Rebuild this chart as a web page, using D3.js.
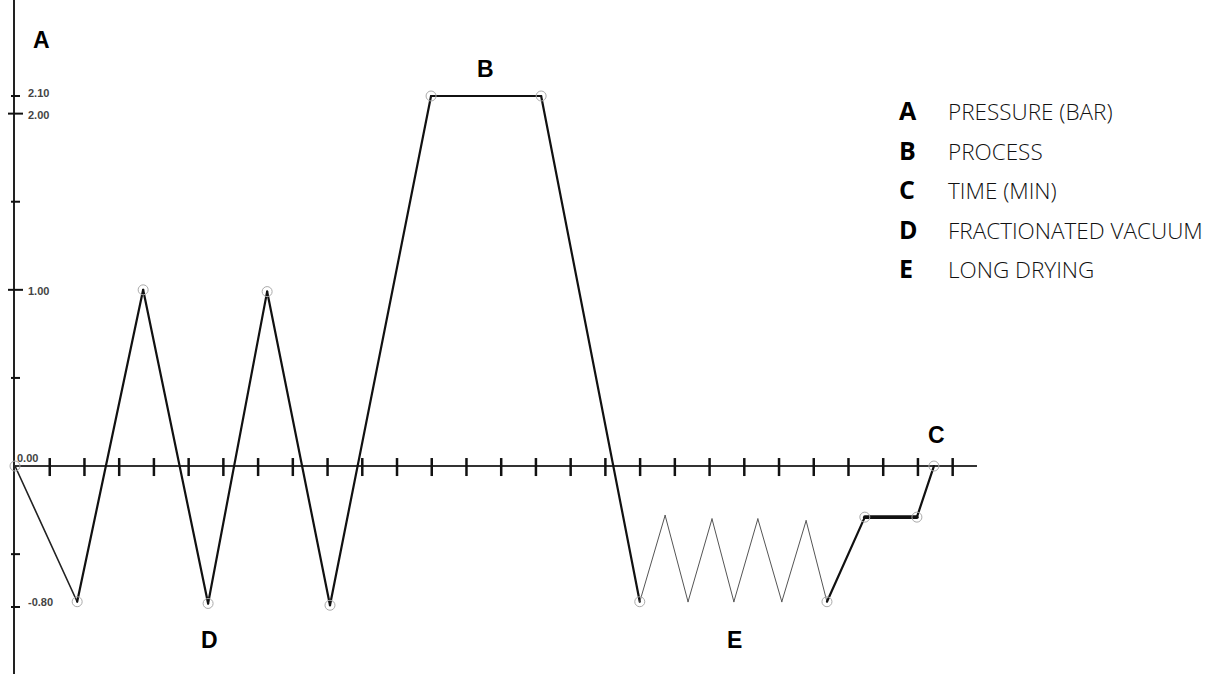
<!DOCTYPE html>
<html>
<head>
<meta charset="utf-8">
<script src="https://cdn.jsdelivr.net/npm/d3@7"></script>
<style>
  body { margin: 0; background: #fff; }
  svg { display: block; }
</style>
</head>
<body>
<svg id="chart"></svg>
<script>
// pressure profile, time in minutes, pressure in bar
let times = [0, 1.79, 3.69, 5.56, 7.26, 9.07, 11.98, 15.15, 17.99, 18.72, 19.38, 20.07, 20.70, 21.39, 22.08, 22.78, 23.38, 24.47, 25.97, 26.46]
let pressures = [0, -0.77, 1.00, -0.78, 0.99, -0.79, 2.10, 2.10, -0.77, -0.28, -0.77, -0.30, -0.77, -0.30, -0.77, -0.31, -0.77, -0.29, -0.29, 0]
// which points get a marker circle
let markers = [0, 1, 2, 3, 4, 5, 6, 7, 8, 16, 17, 18, 19]
// segment style: 'thin' = the vacuum pulses, 'bold' = hold
let segStyle = ['mid', 'std', 'std', 'std', 'std', 'std', 'std', 'std', 'thin', 'thin', 'thin', 'thin', 'thin', 'thin', 'thin', 'thin', 'std', 'bold', 'std']

let yTicks = [2.10, 2.00, 1.50, 1.00, 0.50, -0.50, -0.80]
let yMajor = [2.00, 1.00]
let yLabels = [2.10, 2.00, 1.00, -0.80]
let xTicks = d3.range(1, 28)

let legendKeys = ['A', 'B', 'C', 'D', 'E']
let legendTexts = ['PRESSURE (BAR)', 'PROCESS', 'TIME (MIN)', 'FRACTIONATED VACUUM', 'LONG DRYING']

let width = 1225
let height = 674

let svg = d3.select('#chart')
  .attr('width', width)
  .attr('height', height)

let x = d3.scaleLinear().domain([0, 28]).range([15, 987.4])
let y = d3.scaleLinear().domain([-0.8, 2.1]).range([607, 96])

let points = times.map((t, i) => ({ t: t, p: pressures[i] }))

// axes
svg.append('line')
  .attr('x1', x(0) - 1).attr('x2', x(0) - 1)
  .attr('y1', 0).attr('y2', height)
  .attr('stroke', '#222').attr('stroke-width', 2)

svg.append('line')
  .attr('x1', x(0) - 1).attr('x2', x(27.7))
  .attr('y1', y(0)).attr('y2', y(0))
  .attr('stroke', '#333').attr('stroke-width', 2)

svg.selectAll('.xtick')
  .data(xTicks)
  .enter()
  .append('line')
  .attr('class', 'xtick')
  .attr('x1', (d) => x(d)).attr('x2', (d) => x(d))
  .attr('y1', y(0) - 8).attr('y2', y(0) + 10)
  .attr('stroke', '#111').attr('stroke-width', 2.5)

svg.selectAll('.ytick')
  .data(yTicks)
  .enter()
  .append('line')
  .attr('class', 'ytick')
  .attr('x1', (d) => yMajor.includes(d) ? x(0) - 7 : x(0) - 4)
  .attr('x2', (d) => yMajor.includes(d) ? x(0) + 8 : x(0) + 5)
  .attr('y1', (d) => y(d)).attr('y2', (d) => y(d))
  .attr('stroke', '#111').attr('stroke-width', 2)

svg.selectAll('.ylabel')
  .data(yLabels)
  .enter()
  .append('text')
  .attr('class', 'ylabel')
  .attr('x', x(0) + 13)
  .attr('y', (d) => y(d) + (d === 2.1 ? -2 : d === -0.8 ? -4 : 2))
  .attr('dominant-baseline', 'middle')
  .attr('font-family', 'Liberation Sans, Arial, sans-serif')
  .attr('font-size', 11)
  .attr('font-weight', 'bold')
  .attr('fill', '#444')
  .text((d) => d.toFixed(2))

svg.append('text')
  .attr('x', x(0) + 2)
  .attr('y', y(0) - 4)
  .attr('font-family', 'Liberation Sans, Arial, sans-serif')
  .attr('font-size', 11)
  .attr('font-weight', 'bold')
  .attr('fill', '#444')
  .text('0.00')

// profile segments
let widths = { thin: 1, mid: 1.6, std: 2.2, bold: 3.6 }
let colorsBy = { thin: '#555', mid: '#222', std: '#111', bold: '#111' }
let segments = d3.pairs(points).map((pr, i) => ({ a: pr[0], b: pr[1], s: segStyle[i] }))

svg.selectAll('.seg')
  .data(segments)
  .enter()
  .append('line')
  .attr('class', 'seg')
  .attr('x1', (d) => x(d.a.t)).attr('y1', (d) => y(d.a.p))
  .attr('x2', (d) => x(d.b.t)).attr('y2', (d) => y(d.b.p))
  .attr('stroke', (d) => colorsBy[d.s])
  .attr('stroke-width', (d) => widths[d.s])
  .attr('stroke-linecap', 'round')

svg.selectAll('.marker')
  .data(markers.map((i) => points[i]))
  .enter()
  .append('circle')
  .attr('class', 'marker')
  .attr('cx', (d) => x(d.t))
  .attr('cy', (d) => y(d.p))
  .attr('r', 5)
  .attr('fill', 'none')
  .attr('stroke', '#aaa')
  .attr('stroke-width', 1)

// letter callouts on the chart
let callouts = [
  { k: 'A', x: 33, y: 48 },
  { k: 'B', x: 477, y: 77 },
  { k: 'C', x: 928, y: 443 },
  { k: 'D', x: 201, y: 648 },
  { k: 'E', x: 727, y: 648 }
]
svg.selectAll('.callout')
  .data(callouts)
  .enter()
  .append('text')
  .attr('class', 'callout')
  .attr('x', (d) => d.x)
  .attr('y', (d) => d.y)
  .attr('font-family', 'Liberation Sans, Arial, sans-serif')
  .attr('font-weight', 'bold')
  .attr('font-size', 23)
  .attr('fill', '#000')
  .text((d) => d.k)

// legend
let legend = svg.append('g')
legend.selectAll('.lkey')
  .data(legendKeys)
  .enter()
  .append('text')
  .attr('x', 899)
  .attr('y', (d, i) => 120 + i * 39.5)
  .attr('font-family', 'Open Sans, sans-serif')
  .attr('font-weight', 'bold')
  .attr('font-size', 25)
  .attr('fill', '#000')
  .text((d) => d)

legend.selectAll('.ltext')
  .data(legendTexts)
  .enter()
  .append('text')
  .attr('x', 948)
  .attr('y', (d, i) => 120 + i * 39.5)
  .attr('font-family', 'Open Sans, sans-serif')
  .attr('font-weight', 300)
  .attr('font-size', 22.5)
  .attr('fill', '#111')
  .text((d) => d)
</script>
</body>
</html>
